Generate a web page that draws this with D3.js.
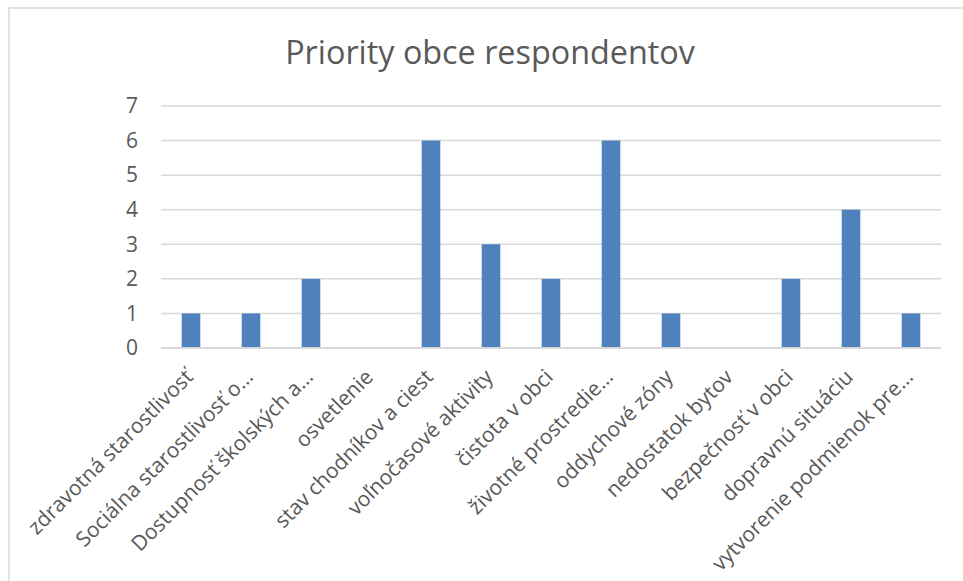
<!DOCTYPE html>
<html>
<head>
<meta charset="utf-8">
<script src="https://cdn.jsdelivr.net/npm/d3@7"></script>
<style>
  html, body { margin: 0; padding: 0; background: #fff; }
  svg { display: block; }
  text { font-family: "Open Sans", sans-serif; fill: #595959; }
</style>
</head>
<body>
<svg id="chart" width="963" height="581"></svg>
<script>
const title = "Priority obce respondentov";
const categories = [
  "zdravotná starostlivosť",
  "Sociálna starostlivosť o…",
  "Dostupnosť školských a…",
  "osvetlenie",
  "stav chodníkov a ciest",
  "voľnočasové aktivity",
  "čistota v obci",
  "životné prostredie…",
  "oddychové zóny",
  "nedostatok bytov",
  "bezpečnosť v obci",
  "dopravnú situáciu",
  "vytvorenie podmienok pre…"
];
const values = [1, 1, 2, 0, 6, 3, 2, 6, 1, 0, 2, 4, 1];
const yTicks = [0, 1, 2, 3, 4, 5, 6, 7];

const svg = d3.select("#chart");

// chart border
svg.append("rect")
  .attr("x", 9).attr("y", 8)
  .attr("width", 970).attr("height", 600)
  .attr("fill", "none")
  .attr("stroke", "#d9d9d9")
  .attr("stroke-width", 1.5);

const x = d3.scaleBand()
  .domain(categories)
  .range([161, 941])
  .paddingInner(0.69)
  .paddingOuter(0.345);

const y = d3.scaleLinear()
  .domain([0, 7])
  .range([348, 106]);

// gridlines
svg.append("g")
  .selectAll("line")
  .data(yTicks)
  .join("line")
  .attr("x1", 161).attr("x2", 941)
  .attr("y1", d => y(d)).attr("y2", d => y(d))
  .attr("stroke", "#d9d9d9")
  .attr("stroke-width", 1.5);

// y axis labels
const yAxis = d3.axisLeft(y).tickValues(yTicks).tickFormat(d3.format("d")).tickSize(0).tickPadding(0);
const gy = svg.append("g").attr("transform", "translate(138,0)").call(yAxis);
gy.select(".domain").remove();
gy.selectAll("text")
  .attr("font-size", 21)
  .attr("fill", "#595959")
  .style("font-family", "'Open Sans', sans-serif");

// bars
svg.append("g")
  .selectAll("rect")
  .data(values)
  .join("rect")
  .attr("x", (d, i) => x(categories[i]))
  .attr("width", x.bandwidth())
  .attr("y", d => y(d))
  .attr("height", d => y(0) - y(d))
  .attr("fill", "#4f81bd");

// x axis line
svg.append("line")
  .attr("x1", 161).attr("x2", 941)
  .attr("y1", y(0)).attr("y2", y(0))
  .attr("stroke", "#d9d9d9")
  .attr("stroke-width", 1.8);

// x category labels (rotated)
svg.append("g")
  .selectAll("text")
  .data(categories)
  .join("text")
  .attr("transform", d => `translate(${x(d) + x.bandwidth() / 2 - 8},367) rotate(-45)`)
  .attr("text-anchor", "end")
  .attr("dy", "0.76em")
  .attr("font-size", 21)
  .text(d => d);

// title
const t = svg.append("text")
  .attr("x", 490).attr("y", 64)
  .attr("text-anchor", "middle")
  .attr("font-size", 31)
  .text(title);
const w = t.node().getComputedTextLength();
t.attr("font-size", 31 * 410 / w);
</script>
</body>
</html>
